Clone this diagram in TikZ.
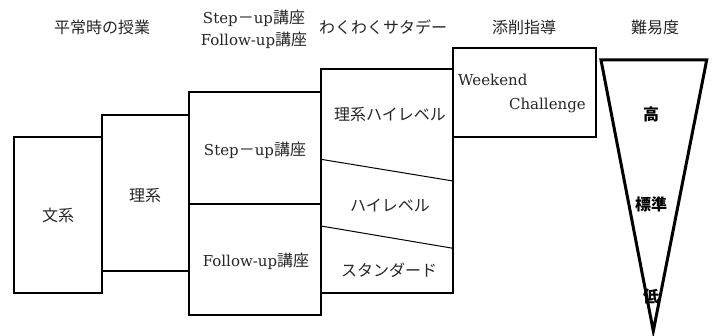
\documentclass[tikz,border=0pt]{standalone}
\usepackage{fontspec}
\setmainfont{DejaVu Serif}
\newfontfamily\cjk{Noto Sans CJK JP}
\begin{document}
\begin{tikzpicture}[x=1pt,y=-1pt,
  box/.style={draw=black,line width=2pt,inner sep=0pt},
  lbl/.style={font=\fontsize{15}{22}\selectfont,inner sep=0pt,text=black!85},
  lvl/.style={font=\fontsize{16}{18}\selectfont\cjk\bfseries,inner sep=0pt}]
\newcommand{\jp}[1]{{\cjk\fontsize{16}{22}\selectfont #1}}
\useasboundingbox (0,0) rectangle (715,336);
% headers
\node[lbl] (h1) at (102,27) {\jp{平常時の授業}};
\node[lbl,align=center] (h2) at (254,29) {Step\jp{－}up\jp{講座}\\Follow-up\jp{講座}};
\node[lbl] (h3) at (383,27) {\jp{わくわくサタデー}};
\node[lbl] (h4) at (524,27) {\jp{添削指導}};
\node[lbl] (h5) at (655,27) {\jp{難易度}};
% boxes
\node[box,minimum width=88pt,minimum height=156pt] (bun) at (58,214.7) {};
\node[box,minimum width=87pt,minimum height=156pt] (ri) at (145.5,193) {};
\node[box,minimum width=132pt,minimum height=112.3pt] (step) at (255,147.8) {};
\node[box,minimum width=132pt,minimum height=111pt] (fol) at (255,259.5) {};
\node[box,minimum width=132pt,minimum height=223.4pt] (waku) at (387,181) {};
\node[box,minimum width=142.7pt,minimum height=88.4pt] (wk) at (524.3,92.5) {};
% diagonal separators
\coordinate (d1a) at (321,159.3); \coordinate (d1b) at (453,181);
\coordinate (d2a) at (321,226); \coordinate (d2b) at (453,248.3);
\draw[line width=1pt] (d1a) -- (d1b);
\draw[line width=1pt] (d2a) -- (d2b);
% labels
\node[lbl] (t1) at (58,215) {\jp{文系}};
\node[lbl] (t2) at (145,196) {\jp{理系}};
\node[lbl] (t3) at (255,150) {Step\jp{－}up\jp{講座}};
\node[lbl] (t4) at (256,261) {Follow-up\jp{講座}};
\node[lbl] (t5) at (390,115) {\jp{理系ハイレベル}};
\node[lbl] (t6) at (390,205) {\jp{ハイレベル}};
\node[lbl] (t7) at (389,270) {\jp{スタンダード}};
\node[lbl,anchor=west] (t8) at (458,80) {Weekend};
\node[lbl,anchor=east] (t9) at (586,105) {Challenge};
% triangle
\coordinate (ta) at (601,60); \coordinate (tb) at (706.7,60); \coordinate (tc) at (653.3,331);
\draw[line width=3pt,line join=miter] (ta) -- (tb) -- (tc) -- cycle;
\node[lvl] (lh) at (651,114) {高};
\node[lvl] (ls) at (651,204) {標準};
\node[lvl] (ll) at (651,296) {低};
\end{tikzpicture}
\end{document}
